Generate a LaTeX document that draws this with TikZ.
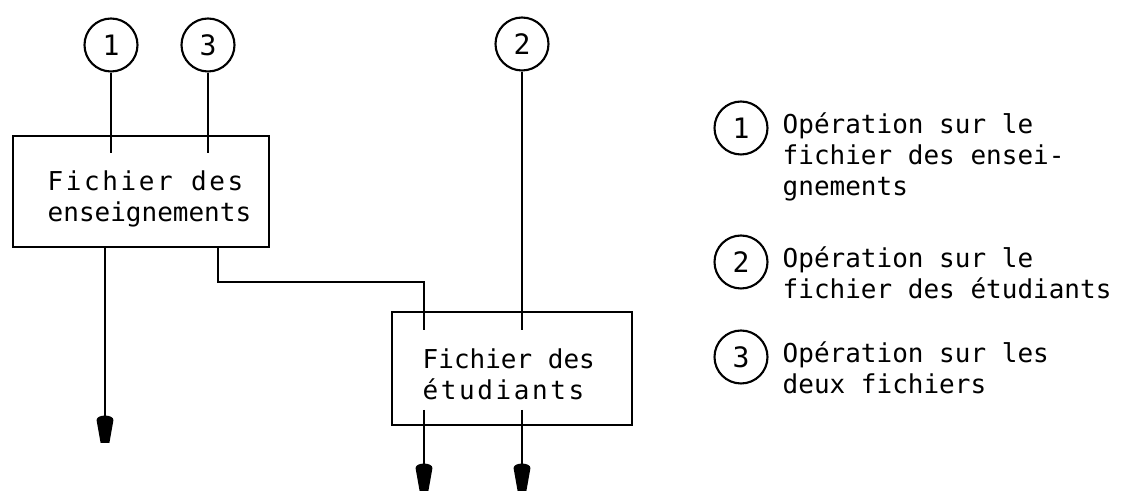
\documentclass[tikz,border=0pt]{standalone}
\usepackage{fontspec}
\setmonofont{DejaVu Sans Mono}
\usetikzlibrary{arrows.meta}
% blunt tip of the output lines
\pgfdeclarearrow{
  name = Goutte,
  setup code = {
    \pgfarrowssettipend{0pt}
    \pgfarrowssetlineend{-12pt}
    \pgfarrowssetvisualbackend{-16pt}
    \pgfarrowssetbackend{-16pt}
    \pgfarrowshullpoint{0pt}{2.5pt}
    \pgfarrowshullpoint{0pt}{-2.5pt}
    \pgfarrowshullpoint{-16pt}{4.8pt}
    \pgfarrowshullpoint{-16pt}{-4.8pt}
  },
  drawing code = {
    \pgfpathmoveto{\pgfpoint{0pt}{2.5pt}}
    \pgfpathlineto{\pgfpoint{-13pt}{4.8pt}}
    \pgfpathcurveto{\pgfpoint{-16.5pt}{4.8pt}}{\pgfpoint{-16.5pt}{-4.8pt}}{\pgfpoint{-13pt}{-4.8pt}}
    \pgfpathlineto{\pgfpoint{0pt}{-2.5pt}}
    \pgfpathclose
    \pgfusepathqfill
  },
}
\tikzset{
  op/.style={draw, circle, line width=1.2pt, minimum size=1.06cm, inner sep=0pt, font=\ttfamily\fontsize{16}{18}\selectfont},
  fichier/.style={draw, line width=0.9pt},
  texte/.style={align=left, inner sep=0pt, anchor=west, font=\ttfamily\fontsize{14.8}{17.6}\selectfont},
  legende/.style={texte, anchor=north west},
  fleche/.style={-Goutte},
}
\newcommand\espace[1]{{\addfontfeatures{LetterSpace=10}#1}}
\begin{document}
\begin{tikzpicture}[x=0.02cm, y=-0.02cm, line width=0.8pt]
                    \useasboundingbox (0,0) rectangle (1127,492);
                    % Circles
                    \node[op] (o1) at (111,45) {1};
                    \node[op] (o3) at (208,45) {3};
                    \node[op] (o2) at (522,44) {2};
                    % Files
                    \node[fichier, minimum width=5.12cm, minimum height=2.22cm] (fens) at (141,191.5) {};
                    \node[texte] (tens) at (47,199) {\espace{Fichier des}\\enseignements};
                    \node[fichier, minimum width=4.8cm, minimum height=2.26cm] (fetu) at (512,368.5) {};
                    \node[texte] (tetu) at (422,374) {Fichier des\\\espace{étudiants}};
                    % Free ends
                    \coordinate (e1) at (111,153);
                    \coordinate (e3) at (208,153);
                    \coordinate (e2) at (522,330);
                    \coordinate (j1) at (424,330);
                    \coordinate (s1) at (105,443);
                    \coordinate (s2) at (424,491);
                    \coordinate (s3) at (522,491);
                    \coordinate (b2) at (424,410);
                    \coordinate (b3) at (522,410);
                    % Lines in
                    \draw (o1) -- (e1);
                    \draw (o3) -- (e3);
                    \draw (o2) -- (e2);
                    % Link between the files
                    \draw (fens.south -| 218,0) -- (218,282) -- (j1 |- 0,282) -- (j1);
                    % Lines out
                    \draw[fleche] (fens.south -| s1) -- (s1);
                    \draw[fleche] (b2) -- (s2);
                    \draw[fleche] (b3) -- (s3);
                    % Legend
                    \node[op] (l1) at (741,128) {1};
                    \node[legende] (t1) at (782,112) {Opération sur le\\fichier des ensei-\\gnements};
                    \node[op] (l2) at (741,262) {2};
                    \node[legende] (t2) at (782,246) {Opération sur le\\fichier des étudiants};
                    \node[op] (l3) at (741,357) {3};
                    \node[legende] (t3) at (782,341) {Opération sur les\\deux fichiers};
                \end{tikzpicture}
\end{document}
